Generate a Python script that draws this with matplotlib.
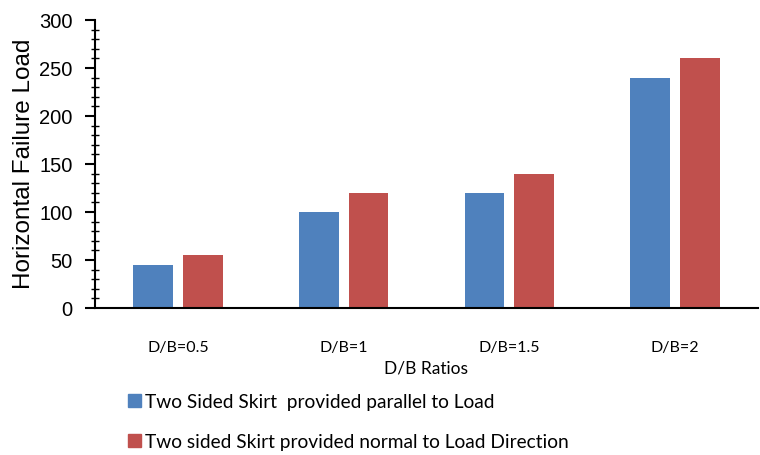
import matplotlib.pyplot as plt
import numpy as np
from matplotlib.patches import Patch

categories = ['D/B=0.5', 'D/B=1', 'D/B=1.5', 'D/B=2']
parallel = [45, 100, 120, 240]
normal = [55, 120, 140, 260]
series_names = ['Two Sided Skirt  provided parallel to Load',
                'Two sided Skirt provided normal to Load Direction']
blue = '#4f81bd'
red = '#c0504d'

fig = plt.figure(figsize=(7.6, 4.55), dpi=100)
ax = fig.add_axes([95 / 760, 1 - 308 / 455, 663 / 760, 288 / 455])

x = np.arange(len(categories))
ax.bar(x - 0.15, parallel, width=0.24, color=blue)
ax.bar(x + 0.15, normal, width=0.24, color=red)

ax.set_xlim(-0.5, 3.5)
ax.set_ylim(0, 300)
ax.set_yticks(np.arange(0, 301, 50))
ax.set_yticks(np.arange(0, 301, 10), minor=True)
ax.tick_params(axis='y', which='major', direction='out', length=7, width=1.5,
               labelsize=14.5, pad=9)
ax.tick_params(axis='y', which='minor', direction='inout', length=6, width=1)
for lab in ax.get_yticklabels():
    lab.set_family('Liberation Sans')

ax.set_xticks(x)
ax.set_xticklabels(categories, family='Lato', fontsize=11.5)
ax.tick_params(axis='x', length=0, pad=24)

for s in ['top', 'right']:
    ax.spines[s].set_visible(False)
ax.spines['left'].set_linewidth(1.5)
ax.spines['bottom'].set_linewidth(1.5)

ax.set_ylabel('Horizontal Failure Load', family='Liberation Sans', fontsize=17.5, labelpad=3)
ax.set_xlabel('D/B Ratios', family='Lato', fontsize=12.5, labelpad=4)

handles = [Patch(color=blue), Patch(color=red)]
fig.legend(handles, series_names, loc='upper left', bbox_to_anchor=(118 / 760, 1 - 384 / 455),
           frameon=False, prop={'family': 'Lato', 'size': 13.8}, handlelength=0.68,
           handleheight=0.68, handletextpad=0.22, labelspacing=1.2, borderpad=0)

fig.savefig('out.png', dpi=100)
